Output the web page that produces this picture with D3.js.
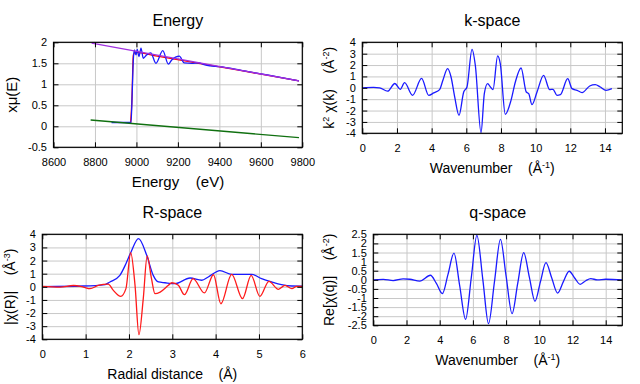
<!DOCTYPE html>
<html>
<head>
<meta charset="utf-8">
<script src="https://cdn.jsdelivr.net/npm/d3@7"></script>
<style>
  body { margin: 0; background: #fff; }
  svg text { font-family: "Liberation Sans", Arial, sans-serif; white-space: pre; }
</style>
</head>
<body>
<svg id="chart" width="640" height="384"></svg>
<script>
// ---- Energy panel ----
const eTicksX = [8600, 8800, 9000, 9200, 9400, 9600, 9800];
const eTicksY = [-0.5, 0, 0.5, 1, 1.5, 2];
const eData = [8880, 8974, 8980, 8985, 8990, 8998, 9004, 9012, 9022, 9033, 9049, 9069, 9094, 9127, 9154, 9170, 9207, 9230, 9267, 9299, 9331, 9355, 9400, 9500, 9600, 9700, 9784];
const muData = [0.09, 0.09, 0.86, 1.58, 1.82, 1.70, 1.83, 1.66, 1.86, 1.62, 1.70, 1.75, 1.50, 1.80, 1.48, 1.58, 1.67, 1.51, 1.50, 1.51, 1.46, 1.44, 1.42, 1.34, 1.25, 1.16, 1.08];
const eBkg = [8972, 8978, 8985, 8995, 9100, 9300, 9500, 9784];
const muBkg = [0.08, 0.6, 1.7, 1.76, 1.67, 1.5, 1.33, 1.08];
const ePost = [8784, 9784];
const muPost = [1.98, 1.08];
const ePre = [8779, 9784];
const muPre = [0.15, -0.27];

// ---- k-space ----
const kTicksX = [0, 2, 4, 6, 8, 10, 12, 14];
const kTicksY = [-4, -3, -2, -1, 0, 1, 2, 3, 4];
const kGrid = [0, 0.65, 1.0, 1.46, 1.88, 2.19, 2.44, 2.9, 3.42, 3.83, 4.12, 4.46, 4.65, 4.92, 5.12, 5.33, 5.58, 5.85, 6.04, 6.33, 6.52, 6.85, 7.04, 7.23, 7.39, 7.54, 7.81, 7.96, 8.25, 8.58, 8.83, 9.16, 9.46, 9.6, 9.79, 10.08, 10.46, 10.81, 11.0, 11.23, 11.43, 11.85, 12.1, 12.39, 12.68, 13.12, 13.44, 13.73, 14.06, 14.4];
const kChi = [0, 0.03, 0, -0.3, 0.38, -0.13, 0.45, -0.66, 0.82, -0.66, -0.45, -0.16, 0.66, 1.68, 0.95, -0.8, -2.42, -0.37, 0.07, 3.38, 1.98, -3.95, -0.51, 0.37, 0.07, -0.16, 2.8, 2.12, -2.33, -1.1, 0.51, 1.74, -0.37, -0.51, -1.48, -0.37, 1.1, -0.16, -0.13, -0.66, -0.6, 0.8, -0.07, -0.22, -0.42, 0.16, 0.28, 0.07, -0.22, -0.07];

// ---- R-space ----
const rTicksX = [0, 1, 2, 3, 4, 5, 6];
const rTicksY = [-4, -3, -2, -1, 0, 1, 2, 3, 4];
const rMagGrid = [0, 0.95, 1.45, 1.56, 1.79, 1.93, 2.04, 2.22, 2.41, 2.56, 2.68, 2.83, 3.06, 3.41, 3.68, 3.83, 4.1, 4.37, 4.83, 5.06, 5.29, 5.52, 5.76, 6.0];
const rMag = [0.02, 0.06, 0.17, 0.37, 0.87, 1.76, 2.6, 3.67, 2.4, 0.87, 0.37, 0.31, 0.24, 0.67, 0.5, 0.75, 1.23, 0.95, 0.95, 0.62, 0.37, 0.16, 0.06, 0.05];
const rReGrid = [0, 0.41, 0.72, 0.95, 1.1, 1.29, 1.52, 1.64, 1.81, 1.93, 2.04, 2.14, 2.23, 2.33, 2.42, 2.52, 2.6, 2.72, 2.91, 2.99, 3.14, 3.28, 3.48, 3.74, 3.95, 4.12, 4.37, 4.62, 4.82, 5.02, 5.23, 5.45, 5.6, 5.76, 5.87, 6.0];
const rRe = [0.04, -0.02, 0.1, -0.02, -0.14, 0.1, 0.2, -0.27, -0.73, -0.14, 2.6, 0.11, -3.65, -0.9, 2.35, 0.62, -0.52, -0.4, 0.11, 0.31, 0.11, -0.6, 0.62, -0.47, 0.92, -1.29, 0.95, -0.9, 0.87, -0.73, 0.42, -0.19, 0.11, -0.14, 0.04, 0.04];

// ---- q-space ----
const qTicksX = [0, 2, 4, 6, 8, 10, 12, 14];
const qTicksY = [-2.5, -2, -1.5, -1, -0.5, 0, 0.5, 1, 1.5, 2, 2.5];
const qGrid = [0, 0.6, 1.2, 1.8, 2.2, 2.8, 3.44, 3.8, 4.16, 4.5, 4.86, 5.2, 5.56, 5.9, 6.24, 6.6, 6.94, 7.3, 7.66, 8.0, 8.36, 8.7, 9.06, 9.4, 9.74, 10.07, 10.4, 10.75, 11.1, 11.45, 11.8, 12.13, 12.46, 12.8, 13.1, 13.5, 14.0, 15.0];
const qChi = [0, 0.02, -0.04, 0.05, 0.03, -0.07, 0.25, -0.2, -0.76, 0.3, 1.47, -0.3, -2.17, 0.1, 2.44, 0, -2.41, -0.1, 2.22, 0.2, -1.86, -0.2, 1.49, 0.15, -1.18, -0.1, 0.94, 0.1, -0.73, -0.1, 0.47, 0.1, -0.25, -0.05, 0.06, 0, 0.03, 0];

const svg = d3.select('#chart');
const fmt = d => String(d);

function drawPanel(cfg) {
  const x = d3.scaleLinear().domain(cfg.xDomain).range([cfg.left, cfg.right]);
  const y = d3.scaleLinear().domain(cfg.yDomain).range([cfg.bottom, cfg.top]);
  const w = cfg.right - cfg.left;
  const h = cfg.bottom - cfg.top;
  const g = svg.append('g');

  // grid
  g.append('g')
    .attr('transform', `translate(0,${cfg.bottom})`)
    .call(d3.axisBottom(x).tickValues(cfg.xTicks).tickSize(-h).tickFormat(''))
    .call(s => s.select('.domain').remove())
    .selectAll('line').attr('stroke', '#c8c8c8');
  g.append('g')
    .attr('transform', `translate(${cfg.left},0)`)
    .call(d3.axisLeft(y).tickValues(cfg.yTicks).tickSize(-w).tickFormat(''))
    .call(s => s.select('.domain').remove())
    .selectAll('line').attr('stroke', '#c8c8c8');

  // curves
  cfg.series.forEach(s => {
    const line = d3.line()
      .x(i => x(s.xs[i]))
      .y(i => y(s.ys[i]))
      .curve(s.curve || d3.curveMonotoneX);
    g.append('path')
      .attr('d', line(d3.range(s.xs.length)))
      .attr('fill', 'none')
      .attr('stroke', s.color)
      .attr('stroke-width', 1.3);
  });

  // axes with inward ticks
  const styleAxis = s => {
    s.select('.domain').remove();
    s.attr('font-size', 11).attr('font-family', '"Liberation Sans", Arial, sans-serif');
    s.selectAll('line').attr('stroke', '#000');
    s.selectAll('text').attr('fill', '#000');
  };
  g.append('g')
    .attr('transform', `translate(0,${cfg.bottom})`)
    .call(d3.axisBottom(x).tickValues(cfg.xTicks).tickSizeInner(-5).tickSizeOuter(0).tickPadding(11).tickFormat(fmt))
    .call(styleAxis);
  g.append('g')
    .attr('transform', `translate(0,${cfg.top})`)
    .call(d3.axisTop(x).tickValues(cfg.xTicks).tickSizeInner(-5).tickSizeOuter(0).tickFormat(''))
    .call(styleAxis);
  g.append('g')
    .attr('transform', `translate(${cfg.left},0)`)
    .call(d3.axisLeft(y).tickValues(cfg.yTicks).tickSizeInner(-5).tickSizeOuter(0).tickPadding(6.5).tickFormat(fmt))
    .call(styleAxis);
  g.append('g')
    .attr('transform', `translate(${cfg.right},0)`)
    .call(d3.axisRight(y).tickValues(cfg.yTicks).tickSizeInner(-5).tickSizeOuter(0).tickFormat(''))
    .call(styleAxis);

  // frame
  g.append('rect')
    .attr('x', cfg.left).attr('y', cfg.top)
    .attr('width', w).attr('height', h)
    .attr('fill', 'none').attr('stroke', '#000').attr('stroke-width', 1.2);

  // title
  g.append('text')
    .attr('x', (cfg.left + cfg.right) / 2).attr('y', cfg.top - 16.5)
    .attr('text-anchor', 'middle').attr('font-size', 16)
    .text(cfg.title);

  // x label
  const xl = g.append('text')
    .attr('x', (cfg.left + cfg.right) / 2).attr('y', cfg.bottom + 40)
    .attr('text-anchor', 'middle').attr('font-size', cfg.xLabelSize || 14);
  cfg.xLabel.forEach(p => {
    const t = xl.append('tspan').text(p.t);
    if (p.sup) t.attr('baseline-shift', 'super').attr('font-size', 9);
  });

  // y label
  const cy = (cfg.top + cfg.bottom) / 2;
  const yl = g.append('text')
    .attr('transform', `translate(${cfg.yLabelX},${cy}) rotate(-90)`)
    .attr('text-anchor', 'middle').attr('font-size', cfg.yLabelSize || 14);
  cfg.yLabel.forEach(p => {
    const t = yl.append('tspan').text(p.t);
    if (p.sup) t.attr('baseline-shift', 'super').attr('font-size', 9);
  });
}

drawPanel({
  title: 'Energy',
  left: 53.5, right: 302.3, top: 42.3, bottom: 147.3,
  xDomain: [8600, 9800], yDomain: [-0.5, 2],
  xTicks: eTicksX, yTicks: eTicksY,
  xLabel: [{ t: 'Energy    (eV)' }], xLabelSize: 15,
  yLabel: [{ t: 'xμ(E)' }], yLabelX: 17, yLabelSize: 15,
  series: [
    { xs: eBkg, ys: muBkg, color: '#ff0000' },
    { xs: eData, ys: muData, color: '#1a1aff' },
    { xs: ePost, ys: muPost, color: '#a030e0', curve: d3.curveLinear },
    { xs: ePre, ys: muPre, color: '#107010', curve: d3.curveLinear }
  ]
});

drawPanel({
  title: 'k-space',
  left: 362.3, right: 622.3, top: 42.3, bottom: 133.3,
  xDomain: [0, 15], yDomain: [-4, 4],
  xTicks: kTicksX, yTicks: kTicksY,
  xLabel: [{ t: 'Wavenumber    (Å' }, { t: '-1', sup: true }, { t: ')' }],
  yLabel: [{ t: 'k' }, { t: '2', sup: true }, { t: ' χ(k)    (Å' }, { t: '-2', sup: true }, { t: ')' }],
  yLabelX: 334,
  series: [{ xs: kGrid, ys: kChi, color: '#1a1aff' }]
});

drawPanel({
  title: 'R-space',
  left: 42.3, right: 302.3, top: 234.3, bottom: 339.3,
  xDomain: [0, 6], yDomain: [-4, 4],
  xTicks: rTicksX, yTicks: rTicksY,
  xLabel: [{ t: 'Radial distance    (Å)' }],
  yLabel: [{ t: '|χ(R)|    (Å' }, { t: '-3', sup: true }, { t: ')' }],
  yLabelX: 15,
  series: [
    { xs: rMagGrid, ys: rMag, color: '#1a1aff' },
    { xs: rReGrid, ys: rRe, color: '#ff1a1a' }
  ]
});

drawPanel({
  title: 'q-space',
  left: 373.3, right: 622.3, top: 234.3, bottom: 325.3,
  xDomain: [0, 15], yDomain: [-2.5, 2.5],
  xTicks: qTicksX, yTicks: qTicksY,
  xLabel: [{ t: 'Wavenumber    (Å' }, { t: '-1', sup: true }, { t: ')' }],
  yLabel: [{ t: 'Re[χ(q)]    (Å' }, { t: '-2', sup: true }, { t: ')' }],
  yLabelX: 334,
  series: [{ xs: qGrid, ys: qChi, color: '#1a1aff' }]
});
</script>
</body>
</html>
